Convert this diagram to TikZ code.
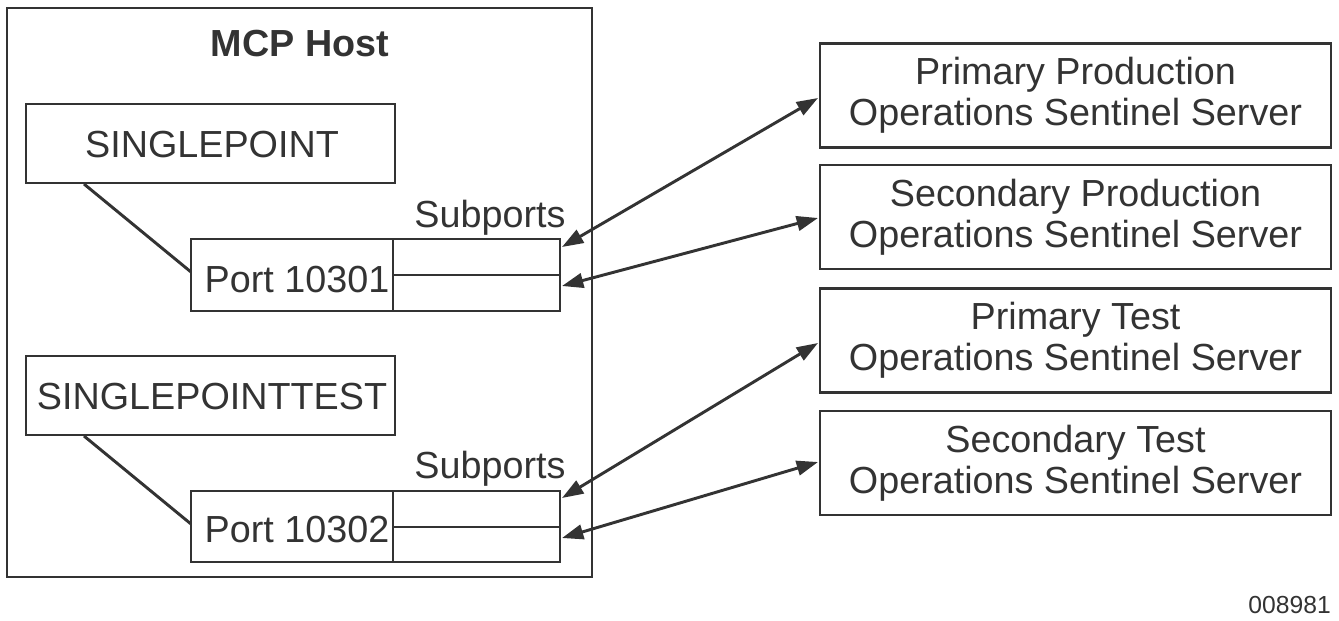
\documentclass[tikz,border=0pt]{standalone}
\usepackage{fontspec}
\setmainfont{Liberation Sans}
\usetikzlibrary{arrows.meta}
\definecolor{ink}{HTML}{333333}
\begin{document}
\begin{tikzpicture}[x=0.75pt,y=-0.75pt,
  box/.style={draw=ink,line width=2.2pt},
  txt/.style={font=\fontsize{28.3}{31}\selectfont,text=ink,align=center,inner sep=0},
  link/.style={draw=ink,line width=2.2pt},
  dbl/.style={draw=ink,line width=2.2pt,{Triangle[length=16pt,width=11pt]}-{Triangle[length=16pt,width=11pt]}}]
\useasboundingbox (0,0) rectangle (1339,621);
\draw[box] (7,8) rectangle (592,577);
\node[txt,font=\fontsize{28.3}{31}\selectfont\bfseries] (host) at (300,44) {MCP Host};
% group 1
\draw[box] (26,104) rectangle (395,183);
\node[txt] (sp) at (212,145) {SINGLEPOINT};
\draw[box] (191,239) rectangle (560,311);
\draw[box] (393,239) -- (393,311) (393,275) -- (560,275);
\node[txt] (p1) at (297,280) {Port 10301};
\node[txt] (s1) at (490,218) {Subports};
\coordinate (sp1) at (84,184); \coordinate (pp1) at (191,272);
\draw[link] (sp1) -- (pp1);
% group 2
\draw[box] (26,356) rectangle (395,435);
\node[txt] (spt) at (212,397) {SINGLEPOINTTEST};
\draw[box] (191,491) rectangle (560,562);
\draw[box] (393,491) -- (393,562) (393,527) -- (560,527);
\node[txt] (p2) at (297,530) {Port 10302};
\node[txt] (s2) at (490,469) {Subports};
\coordinate (sp2) at (84,436); \coordinate (pp2) at (191,524);
\draw[link] (sp2) -- (pp2);
% servers
\node[box,txt,minimum width=383.25pt,minimum height=78pt] (a) at (1075.5,95.5) {Primary Production\\Operations Sentinel Server};
\node[box,txt,minimum width=383.25pt,minimum height=78pt] (b) at (1075.5,217) {Secondary Production\\Operations Sentinel Server};
\node[box,txt,minimum width=383.25pt,minimum height=78pt] (c) at (1075.5,340.5) {Primary Test\\Operations Sentinel Server};
\node[box,txt,minimum width=383.25pt,minimum height=78pt] (d) at (1075.5,463) {Secondary Test\\Operations Sentinel Server};
\coordinate (e1) at (562,247); \coordinate (e2) at (562,286);
\coordinate (e3) at (562,498); \coordinate (e4) at (562,538);
\coordinate (t1) at (818,98); \coordinate (t2) at (818,218);
\coordinate (t3) at (818,343); \coordinate (t4) at (818,462);
\draw[dbl] (e1) -- (t1);
\draw[dbl] (e2) -- (t2);
\draw[dbl] (e3) -- (t3);
\draw[dbl] (e4) -- (t4);
\node[txt,font=\fontsize{18.5}{20}\selectfont,anchor=east] (id) at (1331,605) {008981};
\end{tikzpicture}
\end{document}
